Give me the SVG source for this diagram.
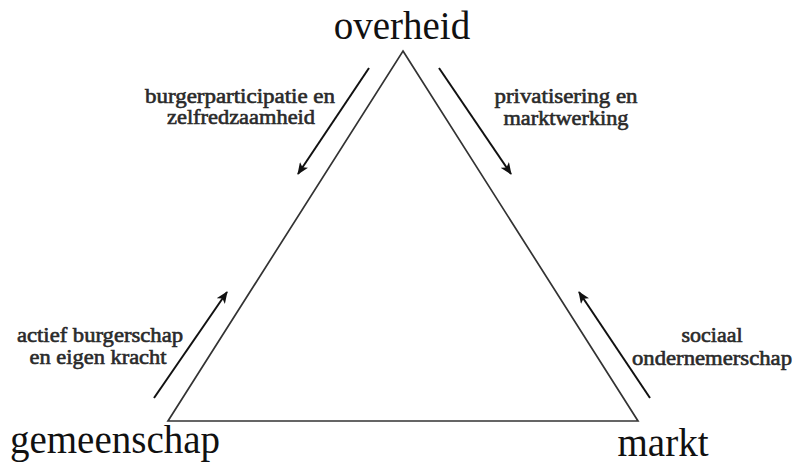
<svg xmlns="http://www.w3.org/2000/svg" width="797" height="467" viewBox="0 0 797 467">
<style>
.big{font-family:"Liberation Serif",serif;font-size:39px;fill:#111;text-anchor:middle}
.lbl{font-family:"Liberation Serif",serif;font-size:20.5px;fill:#2a2a2a;stroke:#2a2a2a;stroke-width:0.6;text-anchor:middle}
.tri{fill:none;stroke:#333;stroke-width:1.7;stroke-linejoin:miter}
.arr{stroke:#111;stroke-width:2;fill:none;marker-end:url(#ah)}
</style>
<defs>
<marker id="ah" viewBox="0 0 12 10" refX="11" refY="5" markerWidth="12" markerHeight="10" markerUnits="userSpaceOnUse" orient="auto">
<path d="M0,0 L12,5 L0,10 L3,5 Z" fill="#111"/>
</marker>
</defs>
<rect width="797" height="467" fill="#fff"/>
<g id="triangle"><path class="tri" d="M403,51 L638,421 L168,421 Z"/></g>
<g id="connectors">
<line class="arr" x1="369" y1="68" x2="298" y2="174"/>
<line class="arr" x1="439" y1="68" x2="511" y2="174"/>
<line class="arr" x1="154" y1="398" x2="227" y2="292"/>
<line class="arr" x1="650" y1="398" x2="579" y2="292"/>
</g>
<g id="overheid"><text class="big" x="402" y="39">overheid</text></g>
<g id="gemeenschap"><text class="big" x="115" y="453">gemeenschap</text></g>
<g id="markt"><text class="big" x="663" y="456">markt</text></g>
<g id="label-tl">
<text class="lbl" x="240" y="103" textLength="190" lengthAdjust="spacingAndGlyphs">burgerparticipatie en</text>
<text class="lbl" x="241" y="124" textLength="148" lengthAdjust="spacingAndGlyphs">zelfredzaamheid</text>
</g>
<g id="label-tr">
<text class="lbl" x="566" y="103" textLength="143" lengthAdjust="spacingAndGlyphs">privatisering en</text>
<text class="lbl" x="566" y="125" textLength="125" lengthAdjust="spacingAndGlyphs">marktwerking</text>
</g>
<g id="label-bl">
<text class="lbl" x="100" y="342" textLength="166" lengthAdjust="spacingAndGlyphs">actief burgerschap</text>
<text class="lbl" x="98" y="364" textLength="137" lengthAdjust="spacingAndGlyphs">en eigen kracht</text>
</g>
<g id="label-br">
<text class="lbl" x="712" y="342" textLength="61" lengthAdjust="spacingAndGlyphs">sociaal</text>
<text class="lbl" x="712" y="365" textLength="160" lengthAdjust="spacingAndGlyphs">ondernemerschap</text>
</g>
</svg>
